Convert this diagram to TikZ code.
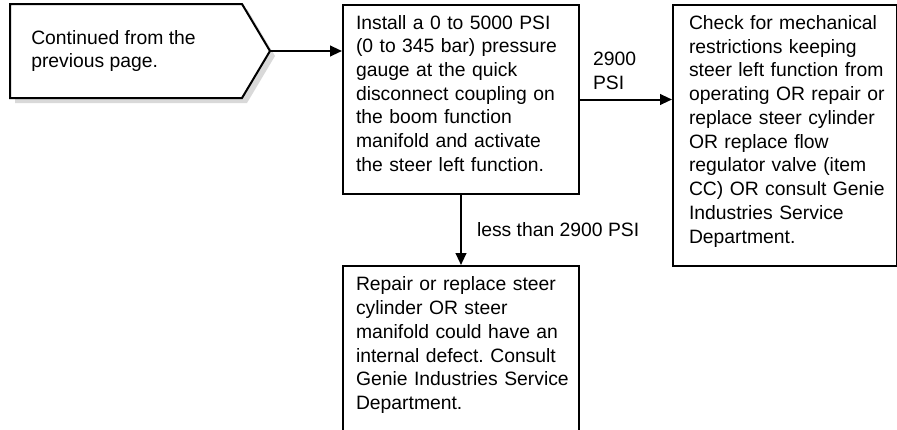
\documentclass[tikz,border=0pt]{standalone}
\usepackage{fontspec}
\setmainfont{Liberation Sans}
\usetikzlibrary{arrows.meta,positioning}
\frenchspacing

% righe fisse, senza a capo automatico
\newcommand{\steptext}[1]{\begin{tabular}{@{}l@{}}#1\\[6pt]\end{tabular}}

\tikzset{
  stepbox/.style={draw, line width=1.5pt, anchor=north west, align=left, inner ysep=0pt,
    font=\fontsize{14.5}{17.8}\selectfont},
  flow/.style={line width=1.5pt, -{Triangle[length=9pt,width=8pt]}},
  lbl/.style={align=left, inner sep=0pt, font=\fontsize{14.5}{17.8}\selectfont}
}

\begin{document}
\begin{tikzpicture}[x=0.75pt, y=-0.75pt]
    \useasboundingbox (0,0) rectangle (897,429);
    \clip (0,0) rectangle (897,429);

    % Punto di partenza (con ombra)
    \fill[black!15] (15,9) -- (247,9) -- (275,56) -- (247,103) -- (15,103) -- cycle;
    \draw[fill=white, line width=1.5pt] (10,4) -- (242,4) -- (270,51) -- (242,98) -- (10,98) -- cycle;
    \node[lbl, anchor=west] (start) at (31,51) {Continued from the\\previous page.};
    \coordinate (tip) at (270,51);

    % Blocchi
    \node[stepbox, text width=157.5pt, inner xsep=9.75pt, minimum height=141.75pt] (gauge) at (342,4)
        {\steptext{Install a 0 to 5000 PSI\\(0 to 345 bar) pressure\\gauge at the quick\\disconnect coupling on\\the boom function\\manifold and activate\\the steer left function.}};
    \node[stepbox, text width=144pt, inner xsep=12pt, minimum height=195.75pt] (check) at (672,4)
        {\steptext{Check for mechanical\\restrictions keeping\\steer left function from\\operating OR repair or\\replace steer cylinder\\OR replace flow\\regulator valve (item\\CC) OR consult Genie\\Industries Service\\Department.}};
    \node[stepbox, text width=157.5pt, inner xsep=9.75pt, minimum height=125.25pt] (repair) at (342,265)
        {\steptext{Repair or replace steer\\cylinder OR steer\\manifold could have an\\internal defect. Consult\\Genie Industries Service\\Department.}};

    % Frecce
    \draw[flow] (tip) -- (tip -| gauge.west);
    \draw[flow] (gauge.east) node[lbl, anchor=south west, xshift=9pt, yshift=6.5pt] (high) {2900\\PSI}
        -- (gauge.east -| check.west);
    \draw[flow] (gauge.south) -- node[lbl, anchor=west, xshift=11.25pt] (low) {less than 2900 PSI} (repair.north);
\end{tikzpicture}
\end{document}
